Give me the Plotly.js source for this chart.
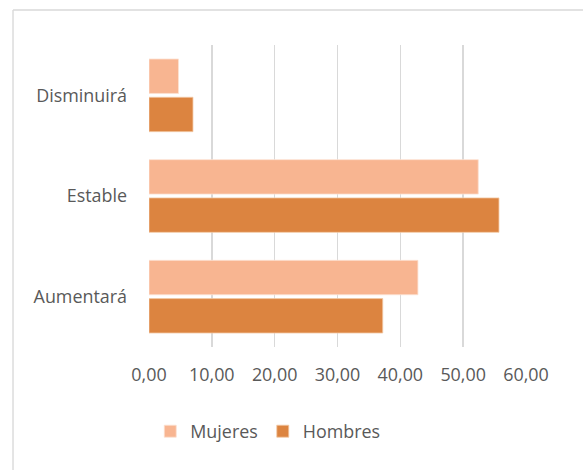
<!DOCTYPE html>
<html>
<head>
<meta charset="utf-8">
<script src="https://cdn.plot.ly/plotly-3.0.1.min.js"></script>
<style>
html,body{margin:0;padding:0;background:#fff;}
#chart{width:583px;height:470px;}
</style>
</head>
<body>
<div id="chart"></div>
<script>
var categories = ['Aumentará', 'Estable', 'Disminuirá'];
var mujeres = [42.8, 52.4, 4.7];
var hombres = [37.2, 55.7, 7.0];
var tickVals = [0, 10, 20, 30, 40, 50, 60];
var tickText = ['0,00', '10,00', '20,00', '30,00', '40,00', '50,00', '60,00'];

var traces = [
  {
    type: 'bar', orientation: 'h', name: 'Hombres',
    y: categories, x: hombres,
    marker: {color: '#DC8440', line: {color: '#F3C9A6', width: 0.8}},
    hoverinfo: 'none'
  },
  {
    type: 'bar', orientation: 'h', name: 'Mujeres',
    y: categories, x: mujeres,
    marker: {color: '#F8B591', line: {color: '#FCE2D3', width: 0.8}},
    hoverinfo: 'none'
  }
];

var layout = {
  width: 583, height: 470,
  margin: {l: 149, r: 57, t: 45, b: 123},
  paper_bgcolor: '#ffffff', plot_bgcolor: '#ffffff',
  font: {family: 'Open Sans, sans-serif', size: 17.9, color: '#595959'},
  barmode: 'group', bargap: 0.24, bargroupgap: 0.1,
  showlegend: true,
  legend: {
    orientation: 'h', traceorder: 'reversed',
    x: 0.315, xanchor: 'center', y: -0.28, yanchor: 'middle',
    font: {size: 17.9, color: '#595959'},
    itemwidth: 30
  },
  xaxis: {
    range: [0, 60], tickvals: tickVals, ticktext: tickText,
    showgrid: true, gridcolor: '#D9D9D9', gridwidth: 1.4,
    zeroline: false, showline: false, ticks: '',
    ticklabelstandoff: 15, fixedrange: true
  },
  yaxis: {
    type: 'category', categoryorder: 'array', categoryarray: categories,
    showgrid: false, zeroline: false, showline: false, ticks: '',
    ticklabelstandoff: 21, fixedrange: true
  },
  shapes: [
    {type: 'line', xref: 'paper', yref: 'paper', x0: -0.3607, x1: 1.2, y0: 1.116, y1: 1.116,
     line: {color: '#D9D9D9', width: 1.4}},
    {type: 'line', xref: 'paper', yref: 'paper', x0: -0.3607, x1: -0.3607, y0: 1.116, y1: -0.45,
     line: {color: '#D9D9D9', width: 1.4}}
  ]
};

Plotly.newPlot('chart', traces, layout, {displayModeBar: false, staticPlot: true});
</script>
</body>
</html>
